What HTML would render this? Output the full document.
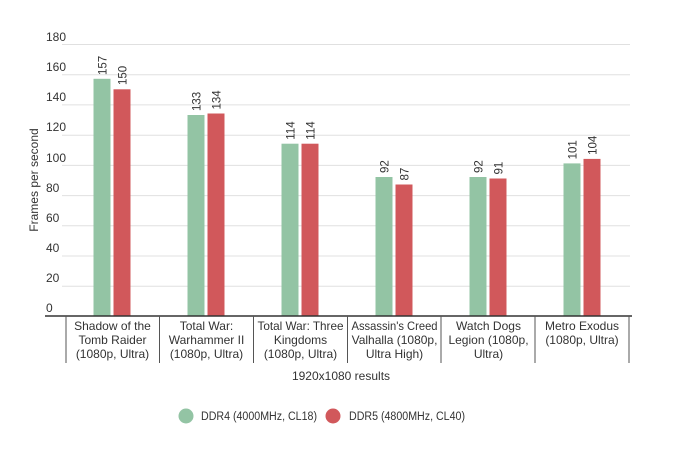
<!DOCTYPE html>
<html><head><style>
body{margin:0;background:#fff}
text{font-family:"Liberation Sans",sans-serif;fill:#333}
</style></head><body>
<svg width="690" height="456" xmlns="http://www.w3.org/2000/svg">
<g stroke="#e0e0e0" stroke-width="1">
<line x1="62" x2="630" y1="44.5" y2="44.5"/><line x1="62" x2="630" y1="74.7" y2="74.7"/><line x1="62" x2="630" y1="104.9" y2="104.9"/><line x1="62" x2="630" y1="135.2" y2="135.2"/><line x1="62" x2="630" y1="165.4" y2="165.4"/><line x1="62" x2="630" y1="195.6" y2="195.6"/><line x1="62" x2="630" y1="225.8" y2="225.8"/><line x1="62" x2="630" y1="256" y2="256"/><line x1="62" x2="630" y1="286.2" y2="286.2"/>
</g>
<g font-size="12" fill="#444">
<text x="46" y="41">180</text><text x="46" y="71">160</text><text x="46" y="101">140</text><text x="46" y="131">120</text><text x="46" y="162">100</text><text x="46" y="192">80</text><text x="46" y="222">60</text><text x="46" y="252">40</text><text x="46" y="282">20</text><text x="46" y="312">0</text>
</g>
<text transform="translate(38,180) rotate(-90)" text-anchor="middle" font-size="12" fill="#555">Frames per second</text>
<g fill="#93c4a4">
<rect x="93.5" y="78.8" width="17" height="237.2"/>
<rect x="187.5" y="115" width="17" height="201"/>
<rect x="281.5" y="143.7" width="17" height="172.3"/>
<rect x="375.5" y="177" width="17" height="139"/>
<rect x="469.5" y="177" width="17" height="139"/>
<rect x="563.5" y="163.4" width="17" height="152.6"/>
</g>
<g fill="#d1585b">
<rect x="113.5" y="89.3" width="17" height="226.7"/>
<rect x="207.5" y="113.5" width="17" height="202.5"/>
<rect x="301.5" y="143.7" width="17" height="172.3"/>
<rect x="395.5" y="184.5" width="17" height="131.5"/>
<rect x="489.5" y="178.5" width="17" height="137.5"/>
<rect x="583.5" y="158.9" width="17" height="157.1"/>
</g>
<g font-size="11.5">
<text transform="translate(106.5,75) rotate(-90)">157</text>
<text transform="translate(126.5,85) rotate(-90)">150</text>
<text transform="translate(200.5,111) rotate(-90)">133</text>
<text transform="translate(220.5,109.5) rotate(-90)">134</text>
<text transform="translate(294.5,139.7) rotate(-90)">114</text>
<text transform="translate(314.5,139.7) rotate(-90)">114</text>
<text transform="translate(388.5,173) rotate(-90)">92</text>
<text transform="translate(408.5,180.5) rotate(-90)">87</text>
<text transform="translate(482.5,173) rotate(-90)">92</text>
<text transform="translate(502.5,174.5) rotate(-90)">91</text>
<text transform="translate(576.5,159.4) rotate(-90)">101</text>
<text transform="translate(596.5,154.9) rotate(-90)">104</text>
</g>
<line x1="45" x2="632" y1="316" y2="316" stroke="#333" stroke-width="1.5"/>
<g stroke="#555" stroke-width="1">
<line x1="66" x2="66" y1="316" y2="363"/><line x1="159.5" x2="159.5" y1="316" y2="363"/><line x1="253.5" x2="253.5" y1="316" y2="363"/><line x1="347.5" x2="347.5" y1="316" y2="363"/><line x1="441" x2="441" y1="316" y2="363"/><line x1="535" x2="535" y1="316" y2="363"/><line x1="629" x2="629" y1="316" y2="363"/>
</g>
<g font-size="12" text-anchor="middle" fill="#333">
<text x="112.5" y="330">Shadow of the</text><text x="112.5" y="344">Tomb Raider</text><text x="112.5" y="358">(1080p, Ultra)</text>
<text x="206.5" y="330">Total War:</text><text x="206.5" y="344">Warhammer II</text><text x="206.5" y="358">(1080p, Ultra)</text>
<text x="300.5" y="330" textLength="86" lengthAdjust="spacingAndGlyphs">Total War: Three</text><text x="300.5" y="344">Kingdoms</text><text x="300.5" y="358">(1080p, Ultra)</text>
<text x="394.5" y="330" textLength="86" lengthAdjust="spacingAndGlyphs">Assassin's Creed</text><text x="394.5" y="344">Valhalla (1080p,</text><text x="394.5" y="358">Ultra High)</text>
<text x="488.5" y="330">Watch Dogs</text><text x="488.5" y="344">Legion (1080p,</text><text x="488.5" y="358">Ultra)</text>
<text x="582" y="330">Metro Exodus</text><text x="582" y="344">(1080p, Ultra)</text>
<text x="341" y="380" fill="#555">1920x1080 results</text>
</g>
<circle cx="186" cy="416" r="7.5" fill="#93c4a4"/>
<text x="201" y="420" font-size="11.5" textLength="116" lengthAdjust="spacingAndGlyphs">DDR4 (4000MHz, CL18)</text>
<circle cx="333" cy="416" r="7.5" fill="#d1585b"/>
<text x="349" y="420" font-size="11.5" textLength="116" lengthAdjust="spacingAndGlyphs">DDR5 (4800MHz, CL40)</text>
</svg>
</body></html>
